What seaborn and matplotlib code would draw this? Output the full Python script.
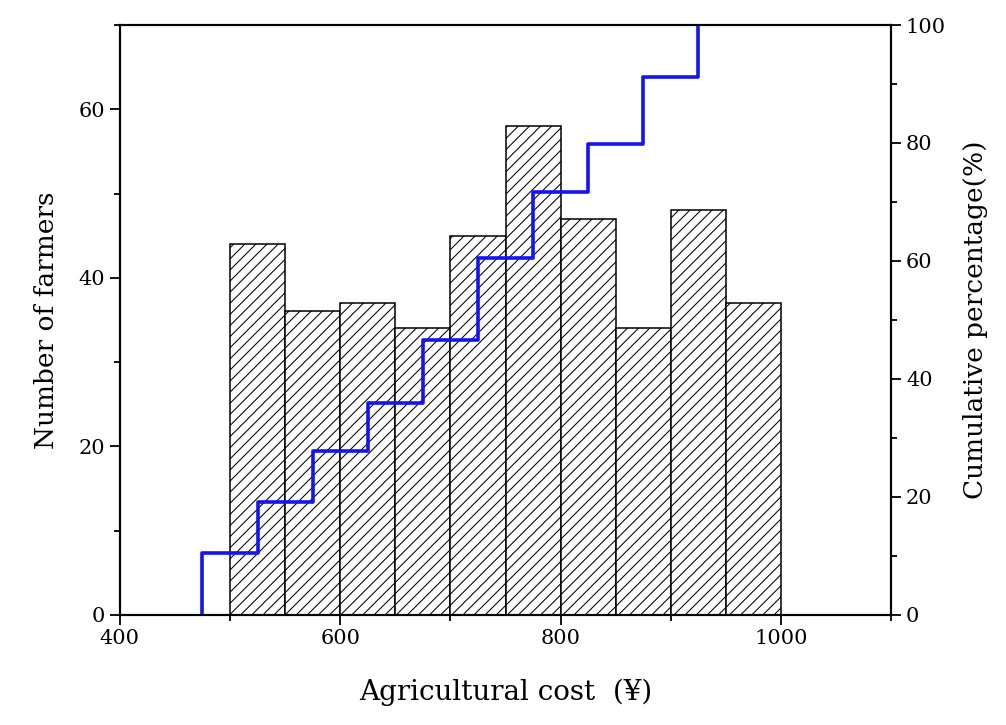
import numpy as np
import pandas as pd
import matplotlib
matplotlib.use("Agg")
import matplotlib.pyplot as plt
import seaborn as sns
from matplotlib.ticker import MultipleLocator

# ---- data ----
bin_left = [500, 550, 600, 650, 700, 750, 800, 850, 900, 950]
counts = [44, 36, 37, 34, 45, 58, 47, 34, 48, 37]
step_x = [475, 525, 575, 625, 675, 725, 775, 825, 875, 925]
bin_width = 50

total = sum(counts)
cum_pct = list(np.cumsum(counts) / total * 100)

sns.set_theme(style="white")
plt.rcParams['font.family'] = ['DejaVu Serif']
plt.rcParams['text.color'] = 'black'
plt.rcParams['axes.labelcolor'] = 'black'
plt.rcParams['xtick.color'] = 'black'
plt.rcParams['ytick.color'] = 'black'
plt.rcParams['hatch.color'] = '#555555'
plt.rcParams['hatch.linewidth'] = 0.75

fig = plt.figure(figsize=(10.06, 7.25), dpi=100)
ax = fig.add_axes([0.119, 0.152, 0.767, 0.8135])

df = pd.DataFrame({"x": [b + bin_width / 2 for b in bin_left], "n": counts})
sns.histplot(data=df, x="x", weights="n", binwidth=bin_width, binrange=(500, 1000),
             color="white", edgecolor="black", linewidth=1.1, alpha=1, ax=ax)
for p in ax.patches:
    p.set_hatch('///')
    p.set_facecolor('white')
    p.set_edgecolor('black')

ax.set_xlim(400, 1100)
ax.set_ylim(0, 70)
ax.xaxis.set_major_locator(MultipleLocator(200))
ax.xaxis.set_minor_locator(MultipleLocator(100))
ax.yaxis.set_major_locator(MultipleLocator(20))
ax.yaxis.set_minor_locator(MultipleLocator(10))
ax.set_yticks([0, 20, 40, 60])
ax.tick_params(axis='both', which='major', direction='out', length=7, width=1.3,
               labelsize=15, bottom=True, left=True, top=False)
ax.tick_params(axis='both', which='minor', direction='out', length=4, width=1.3,
               bottom=True, left=True)
ax.set_xlabel("Agricultural cost  (¥)", fontsize=20, labelpad=22)
ax.set_ylabel("Number of farmers", fontsize=19, labelpad=14)
for s in ax.spines.values():
    s.set_linewidth(1.5)
    s.set_color('black')
    s.set_visible(True)

ax2 = ax.twinx()
lx = [step_x[0]] + step_x
ly = [0] + cum_pct
line_df = pd.DataFrame({"x": lx, "y": ly})
sns.lineplot(data=line_df, x="x", y="y", estimator=None, sort=False,
             drawstyle='steps-post', color='#1414f0', linewidth=2.6, ax=ax2)
ax2.set_ylim(0, 100)
ax2.yaxis.set_major_locator(MultipleLocator(20))
ax2.yaxis.set_minor_locator(MultipleLocator(10))
ax2.tick_params(axis='y', which='major', direction='out', length=7, width=1.3,
                labelsize=15, right=True)
ax2.tick_params(axis='y', which='minor', direction='out', length=4, width=1.3, right=True)
ax2.set_ylabel("Cumulative percentage(%)", fontsize=19, labelpad=12)
ax2.set_xlabel("")
for s in ax2.spines.values():
    s.set_linewidth(1.5)
    s.set_color('black')

fig.savefig("out.png", dpi=100)
